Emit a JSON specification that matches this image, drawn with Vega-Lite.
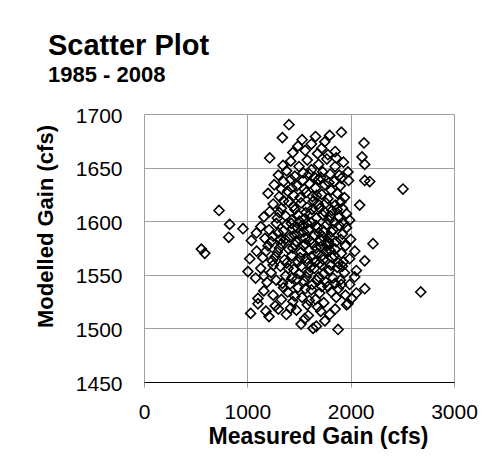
{
  "$schema": "https://vega.github.io/schema/vega-lite/v6.json",
  "autosize": {"type": "none"},
  "padding": {"left": 144, "top": 114, "right": 47, "bottom": 78},
  "width": 310,
  "height": 268,
  "background": "white",
  "config": {
    "view": {"stroke": null},
    "font": "Liberation Sans"
  },
  "title": {
    "text": "Scatter Plot",
    "subtitle": "1985 - 2008",
    "anchor": "start",
    "frame": "group",
    "dx": -96,
    "offset": 19,
    "font": "Liberation Sans",
    "fontSize": 29,
    "fontWeight": "bold",
    "color": "black",
    "subtitleFont": "Liberation Sans",
    "subtitleFontSize": 22,
    "subtitleFontWeight": "bold",
    "subtitleColor": "black",
    "subtitlePadding": 4
  },
  "data": {"values": [
    {"x":1032,"y":1514},{"x":1103,"y":1523},{"x":1210,"y":1511},{"x":1378,"y":1513},{"x":1475,"y":1517},{"x":1555,"y":1509},{"x":1636,"y":1500},{"x":1668,"y":1502},{"x":1878,"y":1499},{"x":1797,"y":1513},{"x":1960,"y":1522},{"x":1974,"y":1523},{"x":1420,"y":1519},{"x":1590,"y":1512},{"x":1710,"y":1516},{"x":1300,"y":1518},{"x":1520,"y":1504},{"x":1850,"y":1518},{"x":1180,"y":1516},{"x":1750,"y":1507},
    {"x":1103,"y":1528},{"x":1160,"y":1535},{"x":1250,"y":1531},{"x":1330,"y":1527},{"x":1390,"y":1534},{"x":1440,"y":1525},{"x":1490,"y":1538},{"x":1530,"y":1529},{"x":1580,"y":1522},{"x":1620,"y":1536},{"x":1660,"y":1527},{"x":1700,"y":1533},{"x":1740,"y":1524},{"x":1780,"y":1539},{"x":1813,"y":1534},{"x":1860,"y":1529},{"x":1910,"y":1541},{"x":2055,"y":1533},{"x":2136,"y":1537},{"x":2678,"y":1534},{"x":1270,"y":1521},{"x":1460,"y":1530},{"x":1560,"y":1537},{"x":1680,"y":1520},{"x":1950,"y":1531},{"x":1350,"y":1538},{"x":1600,"y":1526},{"x":1720,"y":1539},{"x":1880,"y":1537},{"x":2010,"y":1528},
    {"x":1006,"y":1553},{"x":1080,"y":1547},{"x":1130,"y":1556},{"x":1190,"y":1543},{"x":1230,"y":1552},{"x":1280,"y":1545},{"x":1320,"y":1558},{"x":1370,"y":1549},{"x":1410,"y":1541},{"x":1450,"y":1555},{"x":1480,"y":1546},{"x":1520,"y":1558},{"x":1550,"y":1544},{"x":1590,"y":1552},{"x":1630,"y":1541},{"x":1650,"y":1556},{"x":1690,"y":1548},{"x":1720,"y":1559},{"x":1760,"y":1543},{"x":1790,"y":1554},{"x":1830,"y":1547},{"x":1870,"y":1557},{"x":1900,"y":1545},{"x":1940,"y":1552},{"x":1990,"y":1541},{"x":2039,"y":1548},{"x":2055,"y":1554},{"x":1250,"y":1559},{"x":1340,"y":1542},{"x":1430,"y":1547},{"x":1500,"y":1551},{"x":1570,"y":1548},{"x":1610,"y":1557},{"x":1670,"y":1545},{"x":1740,"y":1551},{"x":1810,"y":1559},{"x":1850,"y":1542},{"x":1920,"y":1558},{"x":1160,"y":1549},{"x":1395,"y":1556},
    {"x":555,"y":1574},{"x":588,"y":1570},{"x":1023,"y":1565},{"x":1090,"y":1572},{"x":1150,"y":1566},{"x":1200,"y":1577},{"x":1240,"y":1563},{"x":1290,"y":1571},{"x":1330,"y":1579},{"x":1360,"y":1564},{"x":1400,"y":1574},{"x":1430,"y":1568},{"x":1460,"y":1578},{"x":1490,"y":1562},{"x":1520,"y":1571},{"x":1545,"y":1577},{"x":1575,"y":1565},{"x":1600,"y":1573},{"x":1630,"y":1579},{"x":1655,"y":1562},{"x":1680,"y":1570},{"x":1710,"y":1576},{"x":1735,"y":1564},{"x":1760,"y":1572},{"x":1790,"y":1579},{"x":1820,"y":1566},{"x":1850,"y":1574},{"x":1880,"y":1561},{"x":1910,"y":1570},{"x":1950,"y":1577},{"x":1990,"y":1565},{"x":2040,"y":1572},{"x":2136,"y":1563},{"x":2216,"y":1579},{"x":1270,"y":1567},{"x":1380,"y":1561},{"x":1440,"y":1575},{"x":1510,"y":1566},{"x":1560,"y":1579},{"x":1620,"y":1567},{"x":1700,"y":1561},{"x":1770,"y":1577},{"x":1840,"y":1568},{"x":1930,"y":1562},{"x":1180,"y":1572},{"x":1310,"y":1575},{"x":1590,"y":1561},{"x":1665,"y":1575},{"x":1725,"y":1568},{"x":1800,"y":1573},
    {"x":820,"y":1585},{"x":829,"y":1597},{"x":958,"y":1593},{"x":1039,"y":1582},{"x":1088,"y":1589},{"x":1130,"y":1595},{"x":1170,"y":1584},{"x":1210,"y":1592},{"x":1250,"y":1586},{"x":1280,"y":1598},{"x":1320,"y":1583},{"x":1350,"y":1591},{"x":1380,"y":1597},{"x":1410,"y":1585},{"x":1440,"y":1593},{"x":1470,"y":1581},{"x":1500,"y":1589},{"x":1530,"y":1596},{"x":1560,"y":1584},{"x":1590,"y":1592},{"x":1620,"y":1599},{"x":1650,"y":1587},{"x":1680,"y":1594},{"x":1710,"y":1582},{"x":1740,"y":1590},{"x":1770,"y":1597},{"x":1800,"y":1585},{"x":1830,"y":1592},{"x":1860,"y":1581},{"x":1890,"y":1596},{"x":1920,"y":1588},{"x":1960,"y":1594},{"x":2000,"y":1583},{"x":1230,"y":1581},{"x":1300,"y":1589},{"x":1365,"y":1583},{"x":1425,"y":1598},{"x":1485,"y":1594},{"x":1545,"y":1590},{"x":1605,"y":1582},{"x":1665,"y":1596},{"x":1725,"y":1586},{"x":1785,"y":1581},{"x":1845,"y":1599},{"x":1905,"y":1583},{"x":1455,"y":1587},{"x":1575,"y":1598},{"x":1695,"y":1589},{"x":1815,"y":1590},{"x":1935,"y":1598},
    {"x":726,"y":1610},{"x":1216,"y":1609},{"x":1160,"y":1604},{"x":1250,"y":1616},{"x":1290,"y":1603},{"x":1330,"y":1612},{"x":1370,"y":1605},{"x":1400,"y":1618},{"x":1430,"y":1601},{"x":1460,"y":1611},{"x":1490,"y":1606},{"x":1520,"y":1617},{"x":1550,"y":1602},{"x":1580,"y":1613},{"x":1610,"y":1607},{"x":1640,"y":1619},{"x":1670,"y":1603},{"x":1700,"y":1612},{"x":1730,"y":1606},{"x":1760,"y":1617},{"x":1790,"y":1601},{"x":1820,"y":1610},{"x":1850,"y":1615},{"x":1880,"y":1604},{"x":1920,"y":1612},{"x":1960,"y":1607},{"x":2087,"y":1615},{"x":1310,"y":1608},{"x":1445,"y":1614},{"x":1565,"y":1608},{"x":1685,"y":1616},{"x":1805,"y":1605},{"x":1905,"y":1618},{"x":1350,"y":1619},{"x":1505,"y":1600},{"x":1625,"y":1611},{"x":1745,"y":1609},{"x":1870,"y":1611},{"x":1990,"y":1601},
    {"x":1200,"y":1626},{"x":1260,"y":1634},{"x":1310,"y":1623},{"x":1350,"y":1637},{"x":1390,"y":1628},{"x":1420,"y":1639},{"x":1450,"y":1624},{"x":1480,"y":1633},{"x":1510,"y":1622},{"x":1540,"y":1638},{"x":1570,"y":1627},{"x":1600,"y":1635},{"x":1630,"y":1623},{"x":1660,"y":1631},{"x":1690,"y":1639},{"x":1720,"y":1625},{"x":1750,"y":1634},{"x":1780,"y":1621},{"x":1810,"y":1629},{"x":1840,"y":1637},{"x":1870,"y":1626},{"x":1900,"y":1633},{"x":1940,"y":1622},{"x":1980,"y":1638},{"x":2136,"y":1638},{"x":2184,"y":1637},{"x":2506,"y":1630},{"x":1430,"y":1631},{"x":1550,"y":1630},{"x":1670,"y":1624},{"x":1790,"y":1636},{"x":1910,"y":1640},{"x":1330,"y":1630},
    {"x":1216,"y":1659},{"x":1345,"y":1652},{"x":1300,"y":1643},{"x":1380,"y":1647},{"x":1420,"y":1656},{"x":1460,"y":1642},{"x":1500,"y":1651},{"x":1540,"y":1645},{"x":1580,"y":1657},{"x":1620,"y":1648},{"x":1650,"y":1641},{"x":1690,"y":1653},{"x":1730,"y":1646},{"x":1770,"y":1658},{"x":1800,"y":1644},{"x":1850,"y":1651},{"x":1890,"y":1643},{"x":1930,"y":1655},{"x":1974,"y":1646},{"x":2136,"y":1653},{"x":2110,"y":1660},{"x":1600,"y":1644},{"x":1710,"y":1641},{"x":1860,"y":1659},
    {"x":1403,"y":1690},{"x":1339,"y":1678},{"x":1797,"y":1680},{"x":1910,"y":1683},{"x":1749,"y":1674},{"x":2129,"y":1673},{"x":1440,"y":1664},{"x":1490,"y":1670},{"x":1560,"y":1666},{"x":1620,"y":1672},{"x":1680,"y":1663},{"x":1720,"y":1668},{"x":1850,"y":1665},{"x":1530,"y":1676},{"x":1660,"y":1679},{"x":1780,"y":1662}
  ]},
  "mark": {"type": "point", "shape": "diamond", "filled": false, "size": 100, "strokeWidth": 1.6, "color": "black", "opacity": 1},
  "encoding": {
    "x": {
      "field": "x", "type": "quantitative",
      "scale": {"domain": [0, 3000], "nice": false, "zero": false},
      "axis": {
        "values": [0, 1000, 2000, 3000],
        "format": "d",
        "title": "Measured Gain (cfs)",
        "titleFont": "Liberation Sans", "titleFontSize": 23, "titleFontWeight": "bold", "titleColor": "black",
        "titleX": 174, "titleY": 61, "titleBaseline": "alphabetic", "titleAnchor": null,
        "labelFont": "Liberation Sans", "labelFontSize": 21, "labelColor": "black",
        "labelPadding": 14, "labelFlush": false, "labelOverlap": false,
        "domainColor": "black", "domainWidth": 1,
        "tickColor": "#999999", "tickSize": 5, "tickWidth": 1,
        "grid": true, "gridColor": "#a0a0a0", "gridWidth": 1
      }
    },
    "y": {
      "field": "y", "type": "quantitative",
      "scale": {"domain": [1450, 1700], "nice": false, "zero": false},
      "axis": {
        "values": [1450, 1500, 1550, 1600, 1650, 1700],
        "format": "d",
        "title": "Modelled Gain (cfs)",
        "titleFont": "Liberation Sans", "titleFontSize": 22, "titleFontWeight": "bold", "titleColor": "black",
        "titleX": -92, "titleY": 112, "titleBaseline": "alphabetic", "titleAngle": 270, "titleAnchor": null,
        "labelFont": "Liberation Sans", "labelFontSize": 21, "labelColor": "black",
        "labelPadding": 22, "labelOffset": 2, "labelFlush": false, "labelOverlap": false,
        "domain": false, "ticks": false, "tickSize": 0,
        "grid": true, "gridColor": "#a0a0a0", "gridWidth": 1
      }
    }
  }
}
